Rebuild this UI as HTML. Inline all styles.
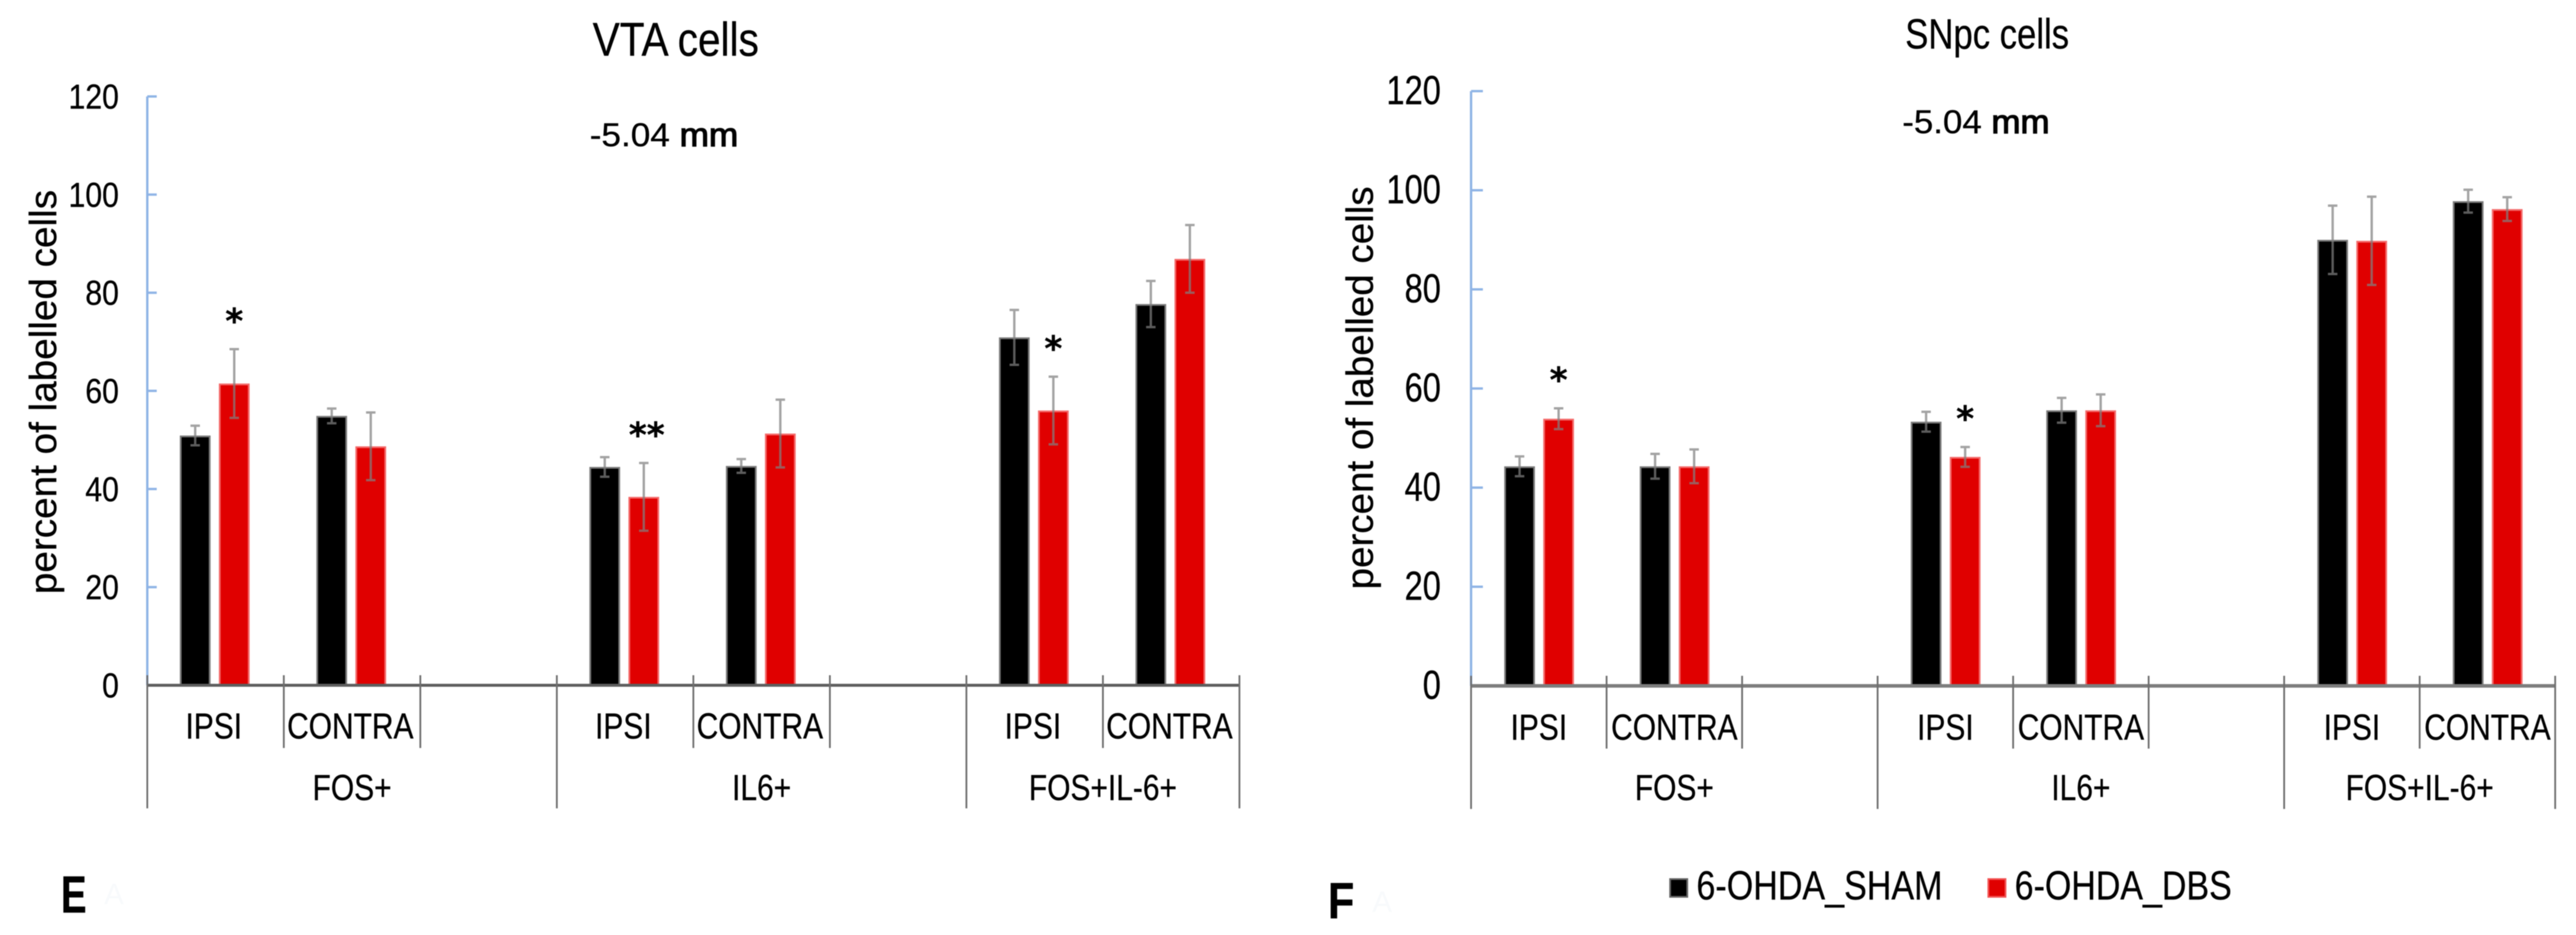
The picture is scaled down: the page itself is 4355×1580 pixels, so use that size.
<!DOCTYPE html>
<html lang="en">
<head>
<meta charset="utf-8">
<title>VTA and SNpc cells</title>
<style>
  html, body { margin: 0; padding: 0; background: #fff; }
  svg { display: block; width: 4355px; height: 1580px; filter: blur(0.9px); }
  text { font-family: "Liberation Sans", sans-serif; fill: #000; stroke: #000; stroke-width: 0.5px; }
</style>
</head>
<body>
<svg id="figure" xmlns="http://www.w3.org/2000/svg" width="4355" height="1580" viewBox="0 0 4355 1580">
  <rect x="0" y="0" width="4355" height="1580" fill="#fff"/>

  <g id="chart-vta"></g>
  <g id="chart-snpc"></g>

  <text x="1002" y="94" font-size="80" textLength="281" lengthAdjust="spacingAndGlyphs">VTA cells</text>
  <text x="997" y="247" font-size="56" textLength="251" lengthAdjust="spacingAndGlyphs">-5.04 <tspan style="stroke-width:1.8px">mm</tspan></text>
  <text x="3221" y="82" font-size="71" textLength="277" lengthAdjust="spacingAndGlyphs">SNpc cells</text>
  <text x="3216" y="225" font-size="56" textLength="249" lengthAdjust="spacingAndGlyphs">-5.04 <tspan style="stroke-width:1.8px">mm</tspan></text>

  <text transform="translate(103,1542) scale(0.74,1)" font-size="88" font-weight="bold">E</text>
  <text x="176" y="1528" font-size="50" style="fill:#f8fafc;stroke:none">A</text>
  <text transform="translate(2245,1552) scale(0.85,1)" font-size="86" font-weight="bold">F</text>
  <text x="2320" y="1541" font-size="50" style="fill:#f8fafc;stroke:none">A</text>

  <g>
    <g>
      <rect x="2823.5" y="1485.5" width="29" height="30" fill="#000" stroke="#666" stroke-width="3"/>
      <text x="2868" y="1520" font-size="69" textLength="416" lengthAdjust="spacingAndGlyphs">6-OHDA_SHAM</text>
    </g>
    <g>
      <rect x="3361.5" y="1485.5" width="29" height="30" fill="#e00000" stroke="#f25555" stroke-width="3"/>
      <text x="3406" y="1520" font-size="69" textLength="367" lengthAdjust="spacingAndGlyphs">6-OHDA_DBS</text>
    </g>
  </g>
</svg>

<script>
// ---- shared axis data ----
const categories = ['IPSI', 'CONTRA', '', 'IPSI', 'CONTRA', '', 'IPSI', 'CONTRA'];
const groupLabels = ['FOS+', 'IL6+', 'FOS+IL-6+'];
const groupSpans = [3, 3, 2];
const yTickLabels = [0, 20, 40, 60, 80, 100, 120];
const yAxisTitle = 'percent of labelled cells';

// ---- VTA chart values ----
const vtaSham = [50.9, 54.9, null, 44.5, 44.7, null, 70.9, 77.7];
const vtaDbs = [61.5, 48.7, null, 38.4, 51.3, null, 56.0, 86.9];
const vtaShamErr = [2.0, 1.5, null, 2.0, 1.4, null, 5.6, 4.7];
const vtaDbsErr = [7.0, 6.9, null, 6.9, 6.9, null, 6.9, 6.9];
const vtaStars = ['*', '', '', '**', '', '', '*', ''];

// ---- SNpc chart values ----
const snpcSham = [44.3, 44.3, null, 53.3, 55.6, null, 90.0, 97.8];
const snpcDbs = [53.9, 44.3, null, 46.2, 55.6, null, 89.8, 96.2];
const snpcShamErr = [2.0, 2.5, null, 2.0, 2.5, null, 6.9, 2.3];
const snpcDbsErr = [2.1, 3.4, null, 2.0, 3.2, null, 8.9, 2.4];
const snpcStars = ['*', '', '', '*', '', '', '', ''];

const SVG_NS = 'http://www.w3.org/2000/svg';
const SHAM_FILL = '#000';
const SHAM_EDGE = '#7a7a7a';
const DBS_FILL = '#e00000';
const DBS_EDGE = '#f46a6a';
const ERR_COLOR = 'rgba(128,128,128,0.72)';
const AXIS_BLUE = '#8fb4e6';

function make(tag, parent, attrs) {
  const el = document.createElementNS(SVG_NS, tag);
  for (const k in attrs) el.setAttribute(k, attrs[k]);
  parent.appendChild(el);
  return el;
}

function drawChart(root, layout, sham, dbs, shamErr, dbsErr, stars) {
  const yScale = v => layout.y0 - v * (layout.y0 - layout.y120) / 120;
  const xBand = i => layout.x0 + i * layout.step;

  // Bars
  categories.forEach((cat, i) => {
    if (sham[i] === null) return;
    const series = [
      { v: sham[i], e: shamErr[i], off: layout.shamOffset, fill: SHAM_FILL, edge: SHAM_EDGE, s: 'sham' },
      { v: dbs[i], e: dbsErr[i], off: layout.dbsOffset, fill: DBS_FILL, edge: DBS_EDGE, s: 'dbs' }
    ];
    series.forEach(b => {
      const left = xBand(i) + b.off;
      const top = yScale(b.v);
      const bar = make('rect', root, {
        x: left + 1.5, y: top + 1.5,
        width: layout.barWidth - 3, height: layout.y0 - top - 1.5,
        fill: b.fill, stroke: b.edge, 'stroke-width': 3
      });
      
      
      bar.setAttribute('data-series', b.s);

      const cx = left + layout.barWidth / 2;
      const hi = yScale(b.v + b.e);
      const lo = yScale(b.v - b.e);
      const err = make('path', root, {
        d: 'M' + (cx - 8) + ' ' + hi + 'H' + (cx + 8) +
           'M' + cx + ' ' + hi + 'V' + lo +
           'M' + (cx - 8) + ' ' + lo + 'H' + (cx + 8),
        fill: 'none', stroke: ERR_COLOR, 'stroke-width': 4
      });
      
      
    });

    if (stars[i]) {
      const starX = xBand(i) + layout.dbsOffset + layout.barWidth / 2 + (stars[i].length > 1 ? 5 : 0);
      const starY = yScale(dbs[i] + dbsErr[i] + 6.8) + 29;
      const star = make('text', root, {
        x: starX, y: starY, 'font-size': 58, 'text-anchor': 'middle',
        'font-weight': 'bold', style: 'font-family:"DejaVu Sans",sans-serif;letter-spacing:0px'
      });
      
      
      star.textContent = stars[i];
    }
  });

  // Y axis
  const yLine = make('line', root, {
    x1: layout.x0, x2: layout.x0, y1: yScale(120), y2: yScale(0),
    stroke: AXIS_BLUE, 'stroke-width': 4
  });
  
  

  yTickLabels.forEach(t => {
    if (t > 0) {
      const tick = make('line', root, {
        x1: layout.x0, x2: layout.x0 + layout.yTickLen, y1: yScale(t), y2: yScale(t),
        stroke: AXIS_BLUE, 'stroke-width': 4
      });
      
      
    }
    const label = make('text', root, {
      transform: 'translate(' + layout.tickRight + ',' + (yScale(t) + layout.tickDrop) + ') scale(' + layout.tickScaleX + ',1)',
      'font-size': layout.tickSize, 'text-anchor': 'end'
    });
    
    
    label.textContent = t;
  });

  // X baseline
  const baseline = make('line', root, {
    x1: layout.x0, x2: xBand(categories.length), y1: layout.y0, y2: layout.y0,
    stroke: layout.baseColor, 'stroke-width': layout.baseWidth
  });
  
  

  // Category ticks and labels
  const groupEdges = [0];
  groupSpans.forEach(s => groupEdges.push(groupEdges[groupEdges.length - 1] + s));
  for (let i = 0; i <= categories.length; i++) {
    const outer = groupEdges.includes(i);
    const tick = make('line', root, {
      x1: xBand(i), x2: xBand(i),
      y1: layout.y0 - 17,
      y2: layout.y0 + (outer ? 208 : 106),
      stroke: '#6e6e6e', 'stroke-width': 3
    });
    
    
  }
  categories.forEach((cat, i) => {
    if (!cat) return;
    const label = make('text', root, {
      transform: 'translate(' + (xBand(i) + layout.step / 2 + layout.catShift) + ',' + layout.catBaseline + ') scale(0.83,1)',
      'font-size': 61, 'text-anchor': 'middle'
    });
    
    
    label.textContent = cat;
  });
  groupLabels.forEach((g, i) => {
    const center = (xBand(groupEdges[i]) + xBand(groupEdges[i + 1])) / 2;
    const label = make('text', root, {
      transform: 'translate(' + center + ',' + layout.groupBaseline + ') scale(0.83,1)',
      'font-size': 61, 'text-anchor': 'middle'
    });
    
    
    label.textContent = g;
  });

  // Y title
  const title = make('text', root, {
    transform: 'translate(' + layout.titleX + ',' + layout.titleY + ') rotate(-90)',
    'font-size': 64, textLength: layout.titleLen, lengthAdjust: 'spacingAndGlyphs'
  });
  
  
  title.textContent = yAxisTitle;
}

drawChart(document.getElementById('chart-vta'), {
  x0: 249, step: 230.8, y0: 1158, y120: 163,
  shamOffset: 55, dbsOffset: 121, barWidth: 52, yTickLen: 16,
  tickRight: 201, tickDrop: 20.5, tickSize: 58, tickScaleX: 0.88,
  baseColor: '#5e5e5e', baseWidth: 5, catShift: -3,
  catBaseline: 1248, groupBaseline: 1352,
  titleX: 95, titleY: 1004, titleLen: 683
}, vtaSham, vtaDbs, vtaShamErr, vtaDbsErr, vtaStars);

drawChart(document.getElementById('chart-snpc'), {
  x0: 2487, step: 229.1, y0: 1159, y120: 154,
  shamOffset: 56, dbsOffset: 122, barWidth: 52, yTickLen: 20,
  tickRight: 2436, tickDrop: 22, tickSize: 69, tickScaleX: 0.8,
  baseColor: '#7d7d7d', baseWidth: 6, catShift: 0,
  catBaseline: 1250, groupBaseline: 1352,
  titleX: 2321, titleY: 996, titleLen: 681
}, snpcSham, snpcDbs, snpcShamErr, snpcDbsErr, snpcStars);
</script>
</body>
</html>
